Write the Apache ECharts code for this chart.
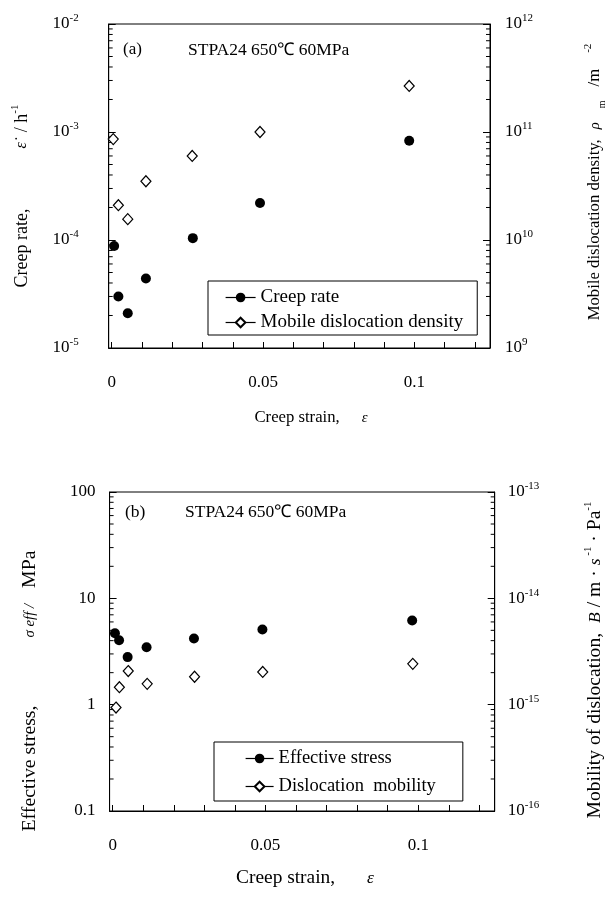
<!DOCTYPE html>
<html>
<head>
<meta charset="utf-8">
<script src="https://cdn.jsdelivr.net/npm/echarts@6/dist/echarts.min.js"></script>
<style>
html, body { margin: 0; padding: 0; background: #fff; }
#main { width: 610px; height: 897px; }
</style>
</head>
<body>
<div id="main"></div>
<script>
// (a) creep rate and mobile dislocation density vs creep strain
var strainRate = [0.0008, 0.0022, 0.0053, 0.0113, 0.0268, 0.049, 0.0983];
var creepRate = [8.8e-5, 3.0e-5, 2.1e-5, 4.4e-5, 1.04e-4, 2.2e-4, 8.3e-4];
var strainRho = [0.0005, 0.0022, 0.0053, 0.0113, 0.0266, 0.049, 0.0983];
var rhoM = [8.6e10, 2.1e10, 1.56e10, 3.5e10, 6.0e10, 1.0e11, 2.67e11];

// (b) effective stress and dislocation mobility vs creep strain
var strainStress = [0.00075, 0.0021, 0.0049, 0.0111, 0.0266, 0.049, 0.098];
var effStress = [4.7, 4.04, 2.8, 3.47, 4.19, 5.09, 6.18];
var strainMob = [0.0011, 0.0022, 0.0051, 0.0113, 0.0268, 0.0491, 0.0982];
var mobility = [9.4e-16, 1.46e-15, 2.07e-15, 1.57e-15, 1.83e-15, 2.03e-15, 2.42e-15];

// axis ticks / labels
var xTicks = [0, 0.01, 0.02, 0.03, 0.04, 0.05, 0.06, 0.07, 0.08, 0.09, 0.1, 0.11, 0.12];
var xLabels = [0, 0.05, 0.1];
var minorMult = [2, 3, 4, 5, 6, 7, 8, 9];
var decRate = [-5, -4, -3];
var decRho = [9, 10, 11];
var decStress = [-1, 0, 1];
var decMob = [-16, -15, -14];

var legendA = ['Creep rate', 'Mobile dislocation density'];
var legendB = ['Effective stress', 'Dislocation  mobility'];

var SERIF = '"Liberation Serif", "Times New Roman", serif';

function zip(xs, ys) {
    return xs.map(function (x, i) { return [x, ys[i]]; });
}
function minorValues(decs) {
    var out = [];
    decs.forEach(function (d) {
        minorMult.forEach(function (m) { out.push([0, m * Math.pow(10, d)]); });
    });
    return out;
}
function powLabel(v) {
    var e = Math.round(Math.log(v) / Math.LN10);
    return '10{sup|' + e + '}';
}
function plainLabel(v) {
    var e = Math.round(Math.log(v) / Math.LN10);
    return e < 0 ? v.toFixed(-e) : String(Math.round(v));
}

var supRich = { sup: { fontSize: 11, lineHeight: 11, verticalAlign: 'top', fontFamily: SERIF, color: '#000' } };

function xAxisOf(grid) {
    return {
        gridIndex: grid, type: 'value', min: -0.001, max: 0.125,
        axisLine: { show: true, onZero: false, lineStyle: { color: '#000', width: 1 } },
        axisTick: { show: true, inside: true, length: 6, customValues: xTicks, lineStyle: { color: '#000' } },
        axisLabel: {
            customValues: xLabels, margin: 26, color: '#000', fontSize: 17, fontFamily: SERIF,
            formatter: function (v) { return String(v); }
        },
        splitLine: { show: false }
    };
}
function yAxisOf(grid, pos, min, max, fmt, margin) {
    return {
        gridIndex: grid, type: 'log', logBase: 10, min: min, max: max, position: pos,
        axisLine: { show: true, onZero: false, lineStyle: { color: '#000', width: 1 } },
        axisTick: { show: true, inside: true, length: 7, lineStyle: { color: '#000' } },
        axisLabel: {
            margin: margin, color: '#000', fontSize: 17, fontFamily: SERIF, lineHeight: 22,
            showMinLabel: true, showMaxLabel: true, formatter: fmt, rich: supRich
        },
        splitLine: { show: false }
    };
}
// short log minor ticks, drawn inward from the left or right frame
function minorTickSeries(xi, yi, decs, side) {
    return {
        type: 'custom', xAxisIndex: xi, yAxisIndex: yi, silent: true, clip: false,
        data: minorValues(decs),
        renderItem: function (params, api) {
            var cs = params.coordSys;
            var y = api.coord([0, api.value(1)])[1];
            var x0 = side === 'left' ? cs.x : cs.x + cs.width;
            var x1 = side === 'left' ? x0 + 4 : x0 - 4;
            return { type: 'line', shape: { x1: x0, y1: y, x2: x1, y2: y }, style: { stroke: '#000', lineWidth: 1 } };
        }
    };
}
function dotSeries(name, xi, yi, data, hollow) {
    return {
        name: name, type: 'line', xAxisIndex: xi, yAxisIndex: yi, data: data,
        symbol: hollow ? 'diamond' : 'circle', symbolSize: hollow ? [10, 11] : 10,
        showSymbol: true, lineStyle: { opacity: 0 },
        itemStyle: hollow ? { color: '#fff', borderColor: '#000', borderWidth: 1.2 } : { color: '#000' }
    };
}

// rich styles for the axis titles, one set per font size
function titleRich(fs) {
    return {
        t: { fontSize: fs, fontFamily: SERIF, color: '#000', lineHeight: 24 },
        i: { fontSize: fs - 2, fontFamily: SERIF, fontStyle: 'italic', color: '#000', lineHeight: 24 },
        s: { fontSize: fs - 5, fontFamily: SERIF, fontStyle: 'italic', color: '#000', lineHeight: 24 },
        sub: { fontSize: 10, fontFamily: SERIF, color: '#000', lineHeight: 10, verticalAlign: 'bottom' },
        sup: { fontSize: 11, fontFamily: SERIF, color: '#000', lineHeight: 11, verticalAlign: 'top' },
        g4: { width: 4 }, g8: { width: 8 }, g10: { width: 10 }, g14: { width: 14 }, g16: { width: 16 },
        g18: { width: 18 }, g22: { width: 22 }, g32: { width: 32 }, g60: { width: 60 }, g68: { width: 68 }
    };
}
function title(x, y, fs, text, rot) {
    return {
        type: 'text', x: x, y: y, rotation: rot || 0,
        style: { text: text, rich: titleRich(fs), align: 'center', verticalAlign: 'middle', fill: '#000' }
    };
}
function note(x, y, fs, text) {
    return {
        type: 'text', x: x, y: y,
        style: { text: text, fontSize: fs, fontFamily: SERIF, fill: '#000', verticalAlign: 'middle' }
    };
}

var chart = echarts.init(document.getElementById('main'));
var option = {
    animation: false,
    backgroundColor: '#fff',
    grid: [
        { left: 108.7, top: 24, width: 381.3, height: 324, show: true, borderColor: '#000', borderWidth: 1 },
        { left: 109.6, top: 492, width: 385.1, height: 319, show: true, borderColor: '#000', borderWidth: 1 }
    ],
    xAxis: [xAxisOf(0), xAxisOf(1)],
    yAxis: [
        yAxisOf(0, 'left', 1e-5, 1e-2, powLabel, 30),
        yAxisOf(0, 'right', 1e9, 1e12, powLabel, 15),
        yAxisOf(1, 'left', 0.1, 100, plainLabel, 14),
        yAxisOf(1, 'right', 1e-16, 1e-13, powLabel, 13)
    ],
    legend: [
        {
            data: legendA, orient: 'vertical', left: 208, top: 281, padding: [7, 14, 3, 17],
            itemWidth: 30, itemHeight: 12, itemGap: 6, selectedMode: false,
            borderColor: '#000', borderWidth: 1, borderRadius: 0, backgroundColor: '#fff',
            textStyle: { fontSize: 19, fontFamily: SERIF, color: '#000' },
            lineStyle: { color: '#000', width: 1.2, opacity: 1, type: 'solid' }
        },
        {
            data: legendB, orient: 'vertical', left: 214, top: 742, padding: [7, 27, 5, 31],
            itemWidth: 28, itemHeight: 12, itemGap: 9, selectedMode: false,
            borderColor: '#000', borderWidth: 1, borderRadius: 0, backgroundColor: '#fff',
            textStyle: { fontSize: 18.5, fontFamily: SERIF, color: '#000' },
            lineStyle: { color: '#000', width: 1.2, opacity: 1, type: 'solid' }
        }
    ],
    graphic: [
        note(123, 50, 17, '(a)'),
        note(188, 50, 17.5, 'STPA24 650\u2103 60MPa'),
        note(125, 512, 17.5, '(b)'),
        note(185, 512, 17.5, 'STPA24 650\u2103 60MPa'),
        title(22, 196, 18, '{t|Creep rate,}{g60| }{i|\u03B5\u0307}{g10| }{t|/ h}{sup|-1}', Math.PI / 2),
        title(595, 182, 16.7, '{t|Mobile dislocation density,}{g10| }{i|\u03C1}{g14| }{sub|m}{g14| }{t|/m}{g16| }{sup|-2}', Math.PI / 2),
        title(30, 691, 19.8, '{t|Effective stress,}{g68| }{s|\u03C3 eff /}{g16| }{t|MPa}', Math.PI / 2),
        title(595, 660, 19.6, '{t|Mobility of dislocation,}{g10| }{i|B}{t| / m · }{i|s}{sup| -1}{t| · Pa}{sup|-1}', Math.PI / 2),
        title(311, 418, 16.7, '{t|Creep strain,}{g22| }{i|\u03B5}'),
        title(305, 878, 19.4, '{t|Creep strain,}{g32| }{i|\u03B5}')
    ],
    series: [
        minorTickSeries(0, 0, decRate, 'left'),
        minorTickSeries(0, 1, decRho, 'right'),
        minorTickSeries(1, 2, decStress, 'left'),
        minorTickSeries(1, 3, decMob, 'right'),
        dotSeries(legendA[0], 0, 0, zip(strainRate, creepRate), false),
        dotSeries(legendA[1], 0, 1, zip(strainRho, rhoM), true),
        dotSeries(legendB[0], 1, 2, zip(strainStress, effStress), false),
        dotSeries(legendB[1], 1, 3, zip(strainMob, mobility), true)
    ]
};
chart.setOption(option);
</script>
</body>
</html>
